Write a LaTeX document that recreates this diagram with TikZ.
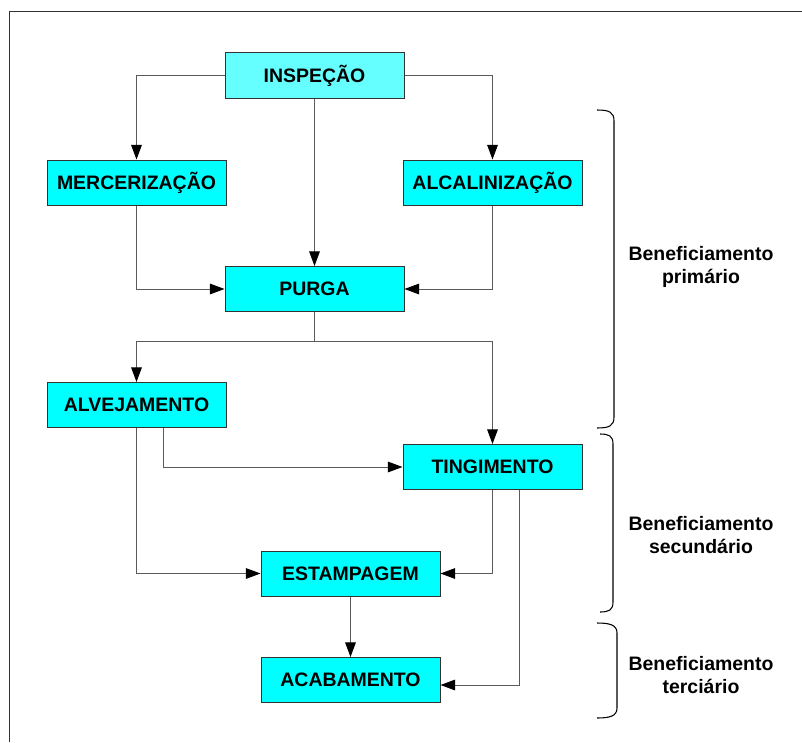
\documentclass[tikz,border=0pt]{standalone}
\usepackage{fontspec}
\setmainfont{Liberation Sans}
\usetikzlibrary{arrows.meta}

\definecolor{boxcyan}{RGB}{0,255,255}
\definecolor{boxcyanlight}{RGB}{102,255,255}
\definecolor{linegray}{RGB}{90,90,90}
\definecolor{framegray}{RGB}{50,50,50}

\tikzset{every picture/.style={line width=0.75pt}}
\tikzset{
  procbox/.style={draw={rgb,255:red,51;green,51;blue,51}, fill=boxcyan, minimum width=134.25pt, minimum height=33.75pt, inner sep=0pt, font=\fontsize{14.6}{17.5}\selectfont\bfseries},
  flow/.style={draw=linegray, -{Triangle[length=11pt,width=8pt,color=black]}},
  stagebrace/.style={draw=black, line width=0.8pt},
  stagetext/.style={align=center, inner sep=0pt, font=\fontsize{14.6}{17.25}\selectfont\bfseries}
}

\begin{document}
\begin{tikzpicture}[x=0.75pt,y=0.75pt,yscale=-1,xscale=1]
	\useasboundingbox (0,0) rectangle (802,742);

	%Frame
	\draw [framegray, line width=1.4pt] (802,11.5) -- (9.5,11.5) -- (9.5,742) ;

	%Shape: Rectangle
	\draw (314.5,75.5) node [procbox, fill=boxcyanlight] (insp) {INSPEÇÃO};
	%Shape: Rectangle
	\draw (136.5,182.5) node [procbox] (merc) {MERCERIZAÇÃO};
	%Shape: Rectangle
	\draw (492.5,182.5) node [procbox] (alca) {ALCALINIZAÇÃO};
	%Shape: Rectangle
	\draw (314.5,289) node [procbox] (purga) {PURGA};
	%Shape: Rectangle
	\draw (136.5,405) node [procbox] (alve) {ALVEJAMENTO};
	%Shape: Rectangle
	\draw (492.5,467) node [procbox] (ting) {TINGIMENTO};
	%Shape: Rectangle
	\draw (350.5,573.5) node [procbox] (estamp) {ESTAMPAGEM};
	%Shape: Rectangle
	\draw (350.5,680) node [procbox] (acab) {ACABAMENTO};

	\coordinate (split) at (314.5,341);

	%Connectors
	\draw [flow] (insp.west) -| (merc.north) ;
	\draw [flow] (insp.east) -| (alca.north) ;
	\draw [flow] (insp) -- (purga) ;
	\draw [flow] (merc.south) |- (purga.west) ;
	\draw [flow] (alca.south) |- (purga.east) ;
	\draw [draw=linegray] (purga.south) -- (split) ;
	\draw [flow] (split) -| (alve.north) ;
	\draw [flow] (split) -| (ting.north) ;
	\draw [flow] ([xshift=19.9pt]alve.south) |- (ting.west) ;
	\draw [flow] (alve.south) |- (estamp.west) ;
	\draw [flow] (ting.south) |- (estamp.east) ;
	\draw [flow] ([xshift=19.9pt]ting.south) |- ([yshift=3.75pt]acab.east) ;
	\draw [flow] (estamp) -- (acab) ;

	%Curve Lines
	\draw [stagebrace] (597,110) .. controls (609,110) and (614,112) .. (614,121) -- (614,417) .. controls (614,426) and (609,428) .. (597,428) ;
	%Curve Lines
	\draw [stagebrace] (600,434) .. controls (609,434) and (613,436) .. (613,444) -- (613,602) .. controls (613,610) and (609,612) .. (600,612) ;
	%Curve Lines
	\draw [stagebrace] (597,623) .. controls (610,623) and (617,625) .. (617,633) -- (617,708) .. controls (617,716) and (610,718) .. (597,718) ;

	% Text Node
	\draw (701,266.5) node [stagetext] (prim) {Beneficiamento\\primário};
	% Text Node
	\draw (701,535.5) node [stagetext] (secu) {Beneficiamento\\secundário};
	% Text Node
	\draw (701,675.5) node [stagetext] (terc) {Beneficiamento\\terciário};

\end{tikzpicture}
\end{document}
